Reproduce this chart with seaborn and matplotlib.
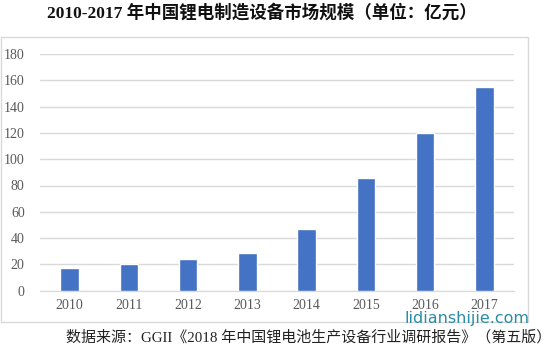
import numpy as np
import pandas as pd
import matplotlib.pyplot as plt
import seaborn as sns
from matplotlib.patches import Rectangle

# 2010-2017 锂电制造设备市场规模 (亿元)
years = ["2010", "2011", "2012", "2013", "2014", "2015", "2016", "2017"]
values = [17, 20, 24, 29, 47, 86, 120, 155]
y_ticks = [0, 20, 40, 60, 80, 100, 120, 140, 160, 180]

df = pd.DataFrame({"year": years, "value": values})

sns.set_style("white")
plt.rcParams['font.family'] = ['Liberation Serif', 'Noto Sans CJK SC', 'DejaVu Sans']

fig = plt.figure(figsize=(5.54, 3.53), dpi=100)
ax = fig.add_axes([40 / 554, 1 - 290.7 / 353, 474 / 554, (290.7 - 54) / 353])

sns.barplot(x="year", y="value", data=df, color="#4472C4", width=0.31,
            saturation=1, ax=ax, zorder=3)

ax.set_ylim(0, 180)
ax.set_xlim(-0.5, len(years) - 0.5)
ax.set_yticks(y_ticks)
ax.yaxis.grid(True, color="#d9d9d9", linewidth=1, zorder=0)
ax.set_xlabel("")
ax.set_ylabel("")
for side in ["top", "right", "left"]:
    ax.spines[side].set_visible(False)
ax.spines["bottom"].set_color("#d9d9d9")
ax.tick_params(axis="both", length=0, labelsize=10, labelcolor="#595959")
ax.tick_params(axis="y", pad=11)
ax.tick_params(axis="x", pad=6)

# 图表外框
fig.patches.append(Rectangle((0.002, 1 - 322 / 353), 527 / 554, 285 / 353,
                             transform=fig.transFigure, fill=False,
                             edgecolor="#d9d9d9", linewidth=1))

fig.text(261.5 / 554, 1 - 13 / 353, "2010-2017 年中国锂电制造设备市场规模（单位：亿元）",
         ha="center", va="center", fontsize=12.6, fontweight="bold", color="#111111")
fig.text(0.995, 1 - 337 / 353,
         "数据来源：GGII《2018 年中国锂电池生产设备行业调研报告》（第五版）",
         ha="right", va="center", fontsize=10.8, color="#222222")
fig.text(529 / 554, 1 - 319 / 353, "lidianshijie.com", ha="right", va="center",
         fontsize=11.5, color="#2a8ca5", family=["DejaVu Sans"])

fig.savefig("out.png", dpi=100)
